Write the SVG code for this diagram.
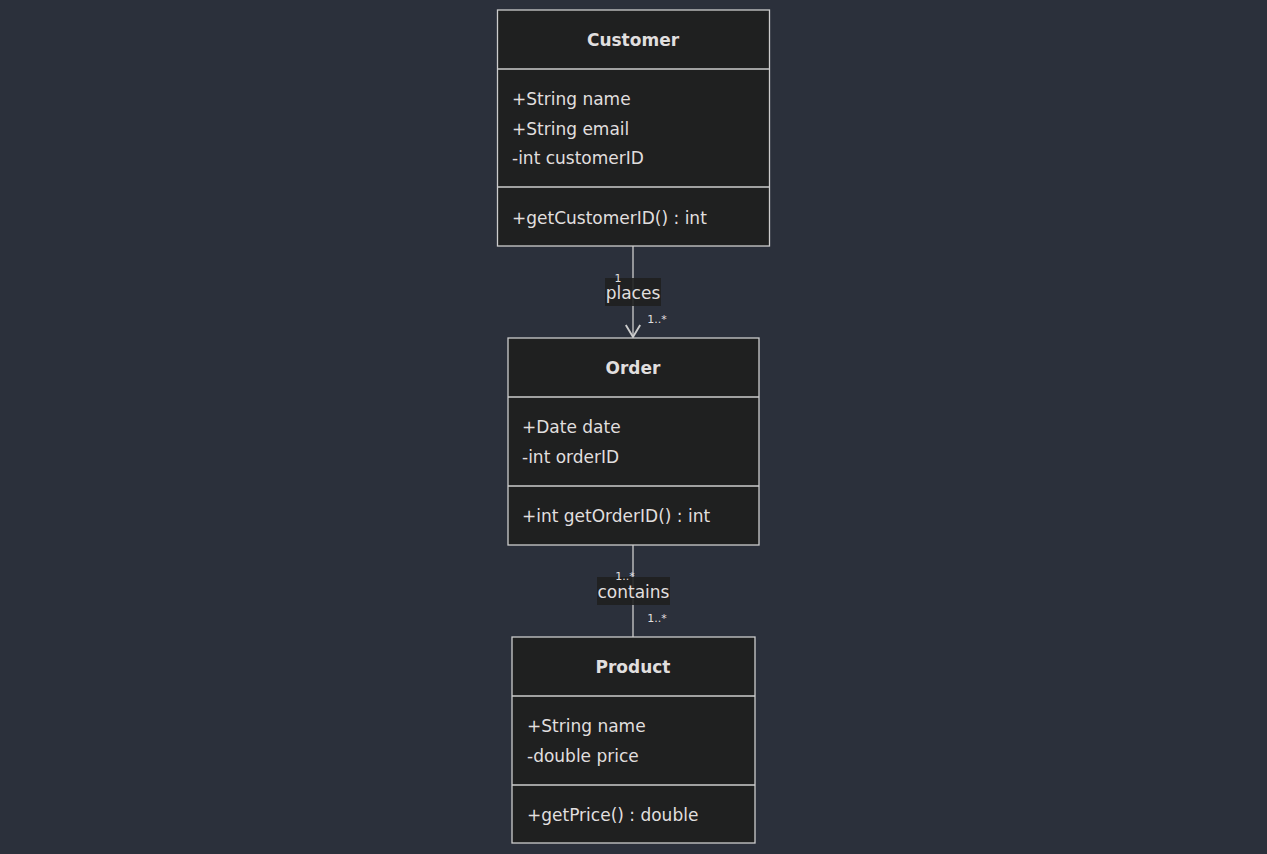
<svg xmlns="http://www.w3.org/2000/svg" width="1267" height="854" viewBox="0 0 1267 854">
<style>
.bg{fill:#2b303b}
.box{fill:#1f2020;stroke:#cccccc;stroke-width:1.3}
.div{stroke:#cccccc;stroke-width:1.3}
.t{font-family:"DejaVu Sans",sans-serif;font-size:17px;fill:#e0dfdf}
.h{font-family:"DejaVu Sans",sans-serif;font-size:17px;font-weight:bold;fill:#e0dfdf;text-anchor:middle}
.edge{stroke:#cccccc;stroke-width:1.3;fill:none}
.lbl{fill:#1f2020;opacity:0.9}
.lt{font-family:"DejaVu Sans",sans-serif;font-size:17px;fill:#e0dfdf;text-anchor:middle}
.card{font-family:"DejaVu Sans",sans-serif;font-size:11px;fill:#e0dfdf;text-anchor:middle}
</style>
<defs>
<marker id="open" viewBox="0 0 20 20" refX="18" refY="10" markerWidth="16" markerHeight="16" markerUnits="userSpaceOnUse" orient="auto">
<path d="M3,1 L18,10 L3,19" fill="none" stroke="#cccccc" stroke-width="2.4"/>
</marker>
</defs>
<rect class="bg" x="0" y="0" width="1267" height="854"/>
<g id="connectors">
<path class="edge" d="M633,246 L633,337" marker-end="url(#open)"/>
<rect class="lbl" x="605" y="278" width="56" height="28"/>
<text class="lt" x="633" y="299">places</text>
<text class="card" x="618" y="282">1</text>
<text class="card" x="657" y="323">1..*</text>
<path class="edge" d="M633,545 L633,637"/>
<rect class="lbl" x="597" y="577" width="73" height="28"/>
<text class="lt" x="633.5" y="598">contains</text>
<text class="card" x="625" y="580">1..*</text>
<text class="card" x="657" y="622">1..*</text>
</g>
<g id="Customer">
<rect class="box" x="497.5" y="10" width="272" height="236"/>
<line class="div" x1="497.5" y1="69" x2="769.5" y2="69"/>
<line class="div" x1="497.5" y1="187" x2="769.5" y2="187"/>
<text class="h" x="633" y="46">Customer</text>
<text class="t" x="512" y="105">+String name</text>
<text class="t" x="512" y="135">+String email</text>
<text class="t" x="512" y="164">-int customerID</text>
<text class="t" x="512" y="224">+getCustomerID() : int</text>
</g>
<g id="Order">
<rect class="box" x="508" y="338" width="251" height="207"/>
<line class="div" x1="508" y1="397" x2="759" y2="397"/>
<line class="div" x1="508" y1="486" x2="759" y2="486"/>
<text class="h" x="633" y="374">Order</text>
<text class="t" x="522" y="433">+Date date</text>
<text class="t" x="522" y="463">-int orderID</text>
<text class="t" x="522" y="522">+int getOrderID() : int</text>
</g>
<g id="Product">
<rect class="box" x="512" y="637" width="243" height="206"/>
<line class="div" x1="512" y1="696" x2="755" y2="696"/>
<line class="div" x1="512" y1="785" x2="755" y2="785"/>
<text class="h" x="633" y="673">Product</text>
<text class="t" x="527" y="732">+String name</text>
<text class="t" x="527" y="762">-double price</text>
<text class="t" x="527" y="821">+getPrice() : double</text>
</g>
</svg>
